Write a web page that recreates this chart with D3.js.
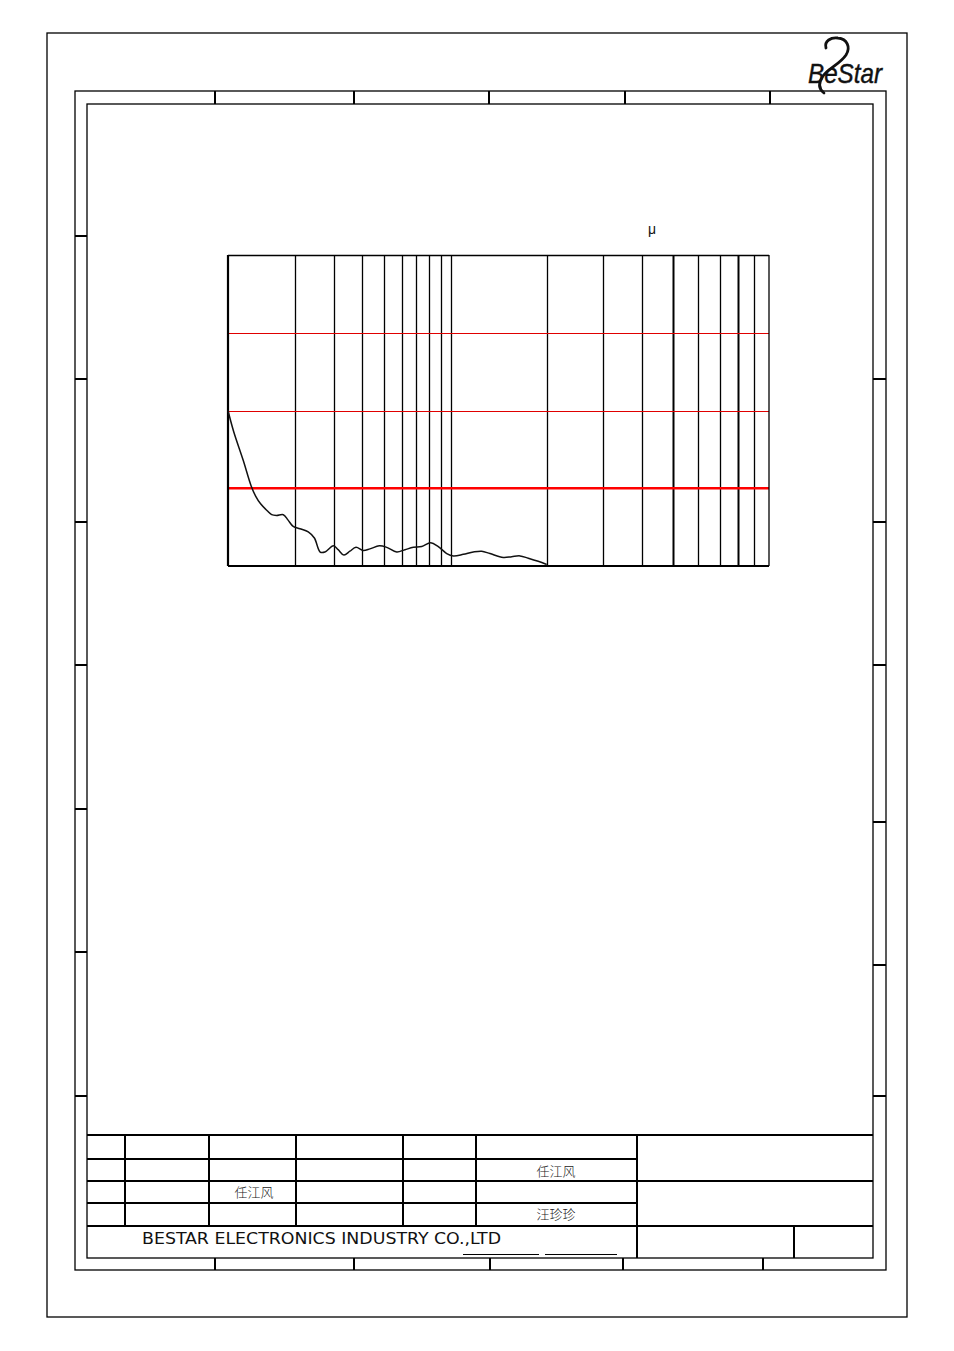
<!DOCTYPE html>
<html>
<head>
<meta charset="utf-8">
<script src="https://cdn.jsdelivr.net/npm/d3@7"></script>
<style>
  html, body { margin: 0; padding: 0; background: #fff; }
  svg { display: block; }
</style>
</head>
<body>
<script>
// ---------------- DATA ----------------
// X axis: frequency (Hz), two log decades with different widths
const freqDomain = [100, 1000, 10000];
const gridFreqs = [200, 300, 400, 500, 600, 700, 800, 900, 1000,
                   2000, 3000, 4000, 5000, 6000, 7000, 8000, 9000];
const boldFreqs = [5000, 8000];
// Y axis
const yDomain = [0, 40];
const redGridValues = [20, 30];
const limitValue = 10;
// Measured curve
const curveFreq = [100, 106, 117, 127, 133, 140, 150, 157, 165, 177, 186, 196, 210, 229, 244, 259, 272,
                   297, 312, 331, 352, 375, 404, 433, 477, 515, 571, 622, 678, 739, 811, 877, 957,
                   1017, 1093, 1175, 1249, 1326, 1460, 1552, 1648, 1750, 1880, 2000];
const curveValue = [20.0, 17.3, 13.6, 10.3, 9.0, 8.0, 7.1, 6.6, 6.5, 6.6, 5.9, 5.1, 4.8, 4.4, 3.6, 1.8, 1.8,
                    2.6, 2.1, 1.4, 1.9, 2.4, 2.0, 2.2, 2.6, 2.4, 1.8, 2.1, 2.4, 2.5, 3.0, 2.5, 1.6,
                    1.3, 1.5, 1.8, 1.9, 1.6, 1.1, 1.2, 1.3, 1.0, 0.6, 0.2];
// Title block text
const company = "BESTAR ELECTRONICS INDUSTRY CO.,LTD";
const names = ["任江风", "任江风", "汪珍珍"];
const unitLabel = "μ";
const logoText = "BeStar";

// ---------------- DRAW ----------------
const W = 954, H = 1351;
const svg = d3.select("body").append("svg")
  .attr("width", W).attr("height", H)
  .attr("viewBox", `0 0 ${W} ${H}`);
svg.append("rect").attr("width", W).attr("height", H).attr("fill", "#fff");

const ink = "#000";
function line(x1, y1, x2, y2, w = 1, color = ink) {
  svg.append("line").attr("x1", x1).attr("y1", y1).attr("x2", x2).attr("y2", y2)
    .attr("stroke", color).attr("stroke-width", w).attr("shape-rendering", "crispEdges");
}
function rect(x1, y1, x2, y2, w = 1.3) {
  svg.append("rect").attr("x", x1).attr("y", y1).attr("width", x2 - x1).attr("height", y2 - y1)
    .attr("fill", "none").attr("stroke", ink).attr("stroke-width", w);
}

// Drawing frames
rect(47, 33, 907, 1317, 1.3);
rect(75, 91, 886, 1270, 1.3);
rect(87, 104, 873, 1258, 1.3);
[215, 354, 489, 625, 770].forEach(x => line(x, 91, x, 104, 1.2));
[215, 354, 490, 623, 763].forEach(x => line(x, 1258, x, 1270, 1.2));
[236, 379, 522, 665, 809, 952, 1096].forEach((y, i) => line(75, y, 87, y, i === 1 ? 2 : 1.2));
[379, 522, 665, 822, 965, 1096].forEach((y, i) => line(873, y, 886, y, i === 0 ? 2 : 1.2));

// Logo
const logo = svg.append("g");
logo.append("path")
  .attr("d", "M826,48 C824,41 831,37 838,38 C847,39 851,47 846,55 C840,64 829,68 823,76 C818,83 819,89 824,93")
  .attr("fill", "none").attr("stroke", "#111").attr("stroke-width", 2.8).attr("stroke-linecap", "round");
logo.append("text").text(logoText)
  .attr("x", 808).attr("y", 83)
  .attr("font-family", "Liberation Sans, Arial, sans-serif")
  .attr("font-style", "italic").attr("font-size", 28)
  .attr("textLength", 74).attr("lengthAdjust", "spacingAndGlyphs")
  .attr("stroke", "#111").attr("stroke-width", 0.4)
  .attr("fill", "#111");

// Unit label
svg.append("text").text(unitLabel)
  .attr("x", 652).attr("y", 234).attr("text-anchor", "middle")
  .attr("font-family", "Liberation Sans, Arial, sans-serif").attr("font-size", 14).attr("fill", "#111");

// Chart
const plot = { left: 228, right: 769, top: 255, bottom: 566 };
const x = d3.scaleLog().domain(freqDomain).range([plot.left, 451, plot.right]);
const y = d3.scaleLinear().domain(yDomain).range([plot.bottom, plot.top]);

const g = svg.append("g");
// vertical grid
g.selectAll("line.vgrid").data(gridFreqs).join("line")
  .attr("class", "vgrid")
  .attr("x1", d => Math.round(x(d)) + 0.5).attr("x2", d => Math.round(x(d)) + 0.5)
  .attr("y1", y(yDomain[1])).attr("y2", y(yDomain[0]))
  .attr("stroke", ink)
  .attr("stroke-width", d => boldFreqs.includes(d) ? 2 : 1.3);

// red horizontal grid
g.selectAll("line.rgrid").data(redGridValues).join("line")
  .attr("class", "rgrid")
  .attr("x1", x(freqDomain[0])).attr("x2", x(freqDomain[2]))
  .attr("y1", d => Math.round(y(d)) + 0.5).attr("y2", d => Math.round(y(d)) + 0.5)
  .attr("stroke", "#e00000").attr("stroke-width", 1.1);

// limit line
g.append("line")
  .attr("x1", x(freqDomain[0])).attr("x2", x(freqDomain[2]))
  .attr("y1", y(limitValue)).attr("y2", y(limitValue))
  .attr("stroke", "#f00").attr("stroke-width", 2.6);

// frame of plot
g.append("line").attr("x1", plot.left).attr("x2", plot.right).attr("y1", plot.top + 0.5).attr("y2", plot.top + 0.5)
  .attr("stroke", ink).attr("stroke-width", 1.3);
g.append("line").attr("x1", plot.left).attr("x2", plot.right).attr("y1", plot.bottom).attr("y2", plot.bottom)
  .attr("stroke", ink).attr("stroke-width", 2);
g.append("line").attr("x1", plot.left).attr("x2", plot.left).attr("y1", plot.top).attr("y2", plot.bottom)
  .attr("stroke", ink).attr("stroke-width", 2.2);
g.append("line").attr("x1", plot.right).attr("x2", plot.right).attr("y1", plot.top).attr("y2", plot.bottom)
  .attr("stroke", ink).attr("stroke-width", 1.3);

// curve
const pts = curveFreq.map((f, i) => [f, curveValue[i]]);
g.append("path").datum(pts)
  .attr("d", d3.line().x(d => x(d[0])).y(d => y(d[1])).curve(d3.curveCatmullRom.alpha(0.5)))
  .attr("fill", "none").attr("stroke", "#111").attr("stroke-width", 1.5)
  .attr("stroke-linejoin", "round");

// Title block
line(87, 1135, 873, 1135, 1.3);
line(87, 1159, 637, 1159, 1.2);
line(87, 1181, 873, 1181, 1.2);
line(87, 1203, 637, 1203, 1.2);
line(87, 1226, 637, 1226, 1.2);
line(637, 1226, 873, 1226, 2.2);
line(125, 1135, 125, 1226, 1.2);
line(209, 1135, 209, 1226, 1.8);
line(296, 1135, 296, 1226, 1.2);
line(403, 1135, 403, 1226, 1.2);
line(476, 1135, 476, 1226, 1.8);
line(637, 1135, 637, 1258, 1.2);
line(794, 1226, 794, 1258, 1.2);

const cjk = "'Noto Sans CJK SC', 'Noto Sans CJK TC', sans-serif";
const namePos = [[556, 1176], [254, 1197], [556, 1219]];
names.forEach((n, i) => {
  svg.append("text").text(n)
    .attr("x", namePos[i][0]).attr("y", namePos[i][1]).attr("text-anchor", "middle")
    .attr("font-family", cjk).attr("font-size", 13).attr("font-weight", 300).attr("fill", "#222");
});

svg.append("text").text(company)
  .attr("x", 142).attr("y", 1244)
  .attr("font-family", "'Liberation Sans Narrow', 'DejaVu Sans Condensed', sans-serif").attr("font-size", 16.5)
  .attr("textLength", 359).attr("lengthAdjust", "spacingAndGlyphs")
  .attr("fill", "#111");
line(463, 1254, 539, 1254, 1);
line(545, 1254, 617, 1254, 1);
</script>
</body>
</html>
